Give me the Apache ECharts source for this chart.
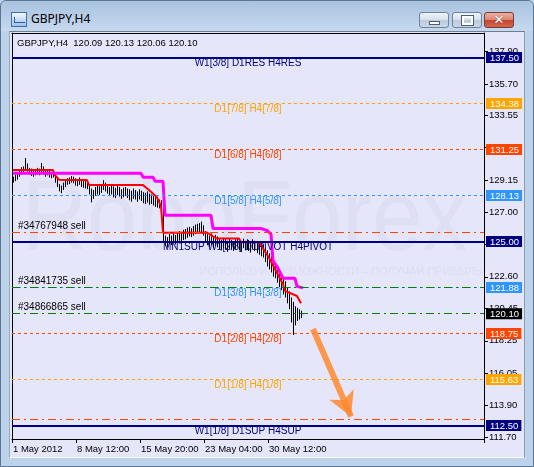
<!DOCTYPE html>
<html>
<head>
<meta charset="utf-8">
<script src="https://cdn.jsdelivr.net/npm/echarts@6/dist/echarts.min.js"></script>
<style>
  html, body { margin: 0; padding: 0; }
  body { width: 534px; height: 467px; position: relative; overflow: hidden; background: #bcd2ea; }
  .win { position: absolute; left: 0; top: 0; width: 532px; height: 465px; border: 1px solid #5d7696; border-radius: 6px 6px 0 0; background: #bdd3eb; }
  .titlebar { position: absolute; left: 0; top: 0; width: 532px; height: 30px; border-radius: 6px 6px 0 0;
    background: linear-gradient(180deg, #a9c2df 0%, #b9cfe8 55%, #c6d9ee 100%); }
  .icon { position: absolute; left: 10px; top: 11px; width: 14px; height: 13px; border: 1px solid #3d6fae;
    background: linear-gradient(180deg, #f4f8fd, #9fc2ea); }
  .icon:after { content: ""; position: absolute; left: 2px; top: 4px; width: 10px; height: 5px; border-bottom: 1px solid #2a5fa6; border-left: 1px solid #2a5fa6; }
  .title { position: absolute; left: 30px; top: 9px; font: 12px "Noto Sans", sans-serif; color: #000; }
  .btn { position: absolute; top: 11px; width: 28px; height: 14px; border: 1px solid #6f819b; border-radius: 3px;
    background: linear-gradient(180deg, #eef3f9 0%, #d5dfeb 50%, #bccbdd 51%, #cad7e6 100%); }
  .btn.min { left: 418px; }
  .btn.max { left: 451px; }
  .btn.cls { left: 483px; border-color: #7a3b33; background: linear-gradient(180deg, #eab0a2 0%, #d98471 50%, #c4452f 51%, #d2684f 100%); }
  .btn.min:after { content: ""; position: absolute; left: 9px; top: 8px; width: 9px; height: 2px; background: #fff; border: 1px solid #4d5d73; }
  .btn.max:after { content: ""; position: absolute; left: 9px; top: 3px; width: 7px; height: 5px; border: 2px solid #fff; outline: 1px solid #4d5d73; }
  .btn.cls span { position: absolute; left: 0; width: 28px; top: -1px; text-align: center; font: bold 13px "DejaVu Sans", sans-serif; color: #fff; text-shadow: 0 0 1px #6b2a22; }
  .client { position: absolute; left: 8px; top: 30px; width: 514px; height: 425px; background: #e6e6fa;
    border-top: 1px solid #6f7f92; border-left: 1px solid #9aa6b4; border-right: 1px solid #8e9aa8; border-bottom: 1px solid #ffffff; }
  #chart { position: absolute; left: 0; top: 0; width: 534px; height: 467px; }
</style>
</head>
<body>
<div class="win">
  <div class="titlebar"></div>
  <div class="icon"></div>
  <div class="title">GBPJPY,H4</div>
  <div class="btn min"></div>
  <div class="btn max"></div>
  <div class="btn cls"><span>✕</span></div>
  <div class="client"></div>
</div>
<div id="chart"></div>
<script>
// time axis: one slot per H4 bar, a label every 32 bars
const tickLabels = ['1 May 2012', '8 May 12:00', '15 May 20:00', '23 May 04:00', '30 May 12:00'];
const barsPerLabel = 32;
const slotCount = 236;

// price scale: visible range and ticks as printed on the right
const priceMin = 111.583;
const priceMax = 139.164;
const priceTicks = [137.90, 135.70, 133.55, 131.40, 129.15, 127.00, 124.80, 122.60, 120.45, 118.25, 116.05, 113.90, 111.70];
const ohlc = ['120.09', '120.13', '120.06', '120.10'];

// H4 bar highs / lows
const highs = [
  129.40, 129.55, 129.70, 129.90, 130.05, 130.10, 130.67, 130.30, 130.00, 129.95,
  129.85, 129.90, 130.00, 129.95, 130.33, 130.10, 129.85, 129.90, 129.80, 129.70,
  129.75, 129.55, 129.30, 128.90, 128.80, 129.00, 129.20, 129.30, 129.35, 129.45,
  129.40, 129.30, 129.20, 129.35, 129.25, 129.15, 129.10, 129.00, 128.80, 128.60,
  128.50, 128.70, 128.80, 128.75, 128.90, 129.17, 129.00, 128.85, 128.70, 128.80,
  128.75, 128.65, 128.80, 128.70, 128.55, 128.65, 128.70, 128.60, 128.55, 128.45,
  128.60, 128.50, 128.40, 128.55, 128.45, 128.35, 128.30, 128.40, 128.25, 128.20,
  128.10, 128.00, 127.95, 127.85, 127.80, 127.35, 125.40, 125.30, 125.50, 125.40,
  125.55, 125.45, 125.60, 125.70, 125.65, 125.80, 125.85, 125.95, 126.00, 125.90,
  126.05, 126.15, 126.20, 126.25, 126.35, 126.10, 125.70, 125.50, 125.40, 125.55,
  125.30, 125.45, 125.35, 125.20, 125.10, 125.25, 125.15, 125.05, 125.20, 125.10,
  125.00, 125.15, 125.25, 125.10, 125.00, 125.20, 125.05, 125.15, 125.10, 125.00,
  125.15, 125.05, 124.95, 125.00, 124.90, 124.80, 124.60, 124.40, 124.20, 124.00,
  123.70, 123.50, 123.20, 122.90, 122.80, 122.50, 122.30, 121.90, 121.60, 121.20,
  120.90, 120.60, 120.50, 120.40, 120.30, 120.13
];
const lows = [
  129.00, 129.10, 129.20, 129.40, 129.55, 129.60, 129.80, 129.75, 129.55, 129.45,
  129.40, 129.50, 129.55, 129.50, 129.70, 129.55, 129.40, 129.50, 129.35, 129.30,
  129.35, 129.00, 128.70, 128.40, 128.28, 128.50, 128.70, 128.85, 128.90, 129.00,
  128.95, 128.80, 128.75, 128.85, 128.70, 128.65, 128.60, 128.55, 128.20, 127.66,
  127.90, 128.10, 128.20, 128.15, 128.30, 128.50, 128.40, 128.25, 128.10, 128.20,
  128.00, 127.95, 128.15, 128.05, 127.90, 128.00, 128.10, 127.95, 127.80, 127.70,
  127.90, 127.85, 127.70, 127.85, 127.75, 127.60, 127.55, 127.65, 127.50, 127.55,
  127.45, 127.35, 127.30, 127.25, 127.20, 124.90, 124.70, 124.60, 124.85, 124.75,
  124.90, 124.80, 124.95, 125.05, 125.00, 125.10, 125.15, 125.25, 125.35, 125.30,
  125.40, 125.50, 125.55, 125.60, 125.65, 125.40, 125.00, 124.75, 124.65, 124.80,
  124.55, 124.70, 124.60, 124.50, 124.40, 124.55, 124.45, 124.30, 124.50, 124.45,
  124.35, 124.50, 124.60, 124.40, 124.30, 124.55, 124.40, 124.45, 124.35, 124.25,
  124.45, 124.35, 124.20, 124.10, 124.00, 123.90, 123.60, 123.30, 123.10, 122.90,
  122.60, 122.50, 122.20, 121.90, 121.70, 121.40, 121.20, 120.80, 120.40, 119.50,
  118.65, 119.30, 119.60, 119.70, 119.80, 120.06
];

// indicator lines, vertices as [bar, price]
const redLine = [
  [0, 129.85], [20, 129.85], [21, 129.50], [23, 129.20], [27, 129.17], [37, 129.17],
  [38, 128.83], [65, 128.83], [68, 128.50], [72, 128.00], [74, 127.40], [75, 125.60],
  [97, 125.61], [100, 125.35], [102, 125.20], [113, 125.20], [114, 124.95], [123, 124.95],
  [128, 123.90], [135, 122.10], [136, 121.65], [142, 121.30], [144, 120.80]
];
const magentaLine = [
  [0, 129.64], [64, 129.64], [65, 129.37], [70, 129.37], [71, 129.10], [75, 129.10],
  [76, 126.78], [99, 126.78], [100, 125.88], [124, 125.88], [127, 125.75], [129, 125.50],
  [130, 123.70], [132, 123.30], [135, 122.50], [141, 122.50], [142, 121.95], [145, 121.85]
];

// Murrey levels
const levelPrices = [137.50, 134.38, 131.25, 128.13, 125.00, 121.88, 118.75, 115.63, 112.50];
const levelNames = [
  'W1[3/8] D1RES H4RES', 'D1[7/8] H4[7/8]', 'D1[6/8] H4[6/8]', 'D1[5/8] H4[5/8]',
  'MN1SUP W1[2/8] D1PIVOT H4PIVOT', 'D1[3/8] H4[3/8]', 'D1[2/8] H4[2/8]', 'D1[1/8] H4[1/8]',
  'W1[1/8] D1SUP H4SUP'
];

// open orders
const orderNames = ['#34767948 sell', '#34841735 sell', '#34866865 sell'];
const orderPrices = [125.61, 121.88, 120.10];
const targetPrice = 112.91;
const bidPrice = 120.10;

// forecast arrow [bar, price]
const arrowFrom = [150, 119.06];
const arrowTo = [169, 113.11];

// ---- styles
const NAVY = '#000080', ORANGE = '#ffa500', OREDRED = '#ff4500', BLUE = '#2f95ff';
const levelStyle = [
  { c: NAVY, type: 'solid', w: 2 }, { c: ORANGE, type: [3, 3], w: 1 }, { c: OREDRED, type: [3, 3], w: 1 },
  { c: BLUE, type: [3, 3], w: 1 }, { c: NAVY, type: 'solid', w: 2 }, { c: BLUE, type: [3, 3], w: 1 },
  { c: OREDRED, type: [3, 3], w: 1 }, { c: ORANGE, type: [3, 3], w: 1 }, { c: NAVY, type: 'solid', w: 2 }
];
const orderColors = [OREDRED, '#008000', '#008000'];
const dashDot = [8, 4, 2, 4];
const FONT = '"Liberation Sans", Arial, sans-serif';

const chart = echarts.init(document.getElementById('chart'), null, { renderer: 'canvas' });

const categories = Array.from({ length: slotCount }, (_, i) => String(i));
const isLabelSlot = (i) => i % barsPerLabel === 0 && i / barsPerLabel < tickLabels.length;

// horizontal lines: Murrey levels (name under the line), orders (name above), target
const levelLines = levelPrices.map((p, k) => {
  const s = levelStyle[k];
  return {
    yAxis: p, lineStyle: { color: s.c, type: s.type, width: s.w },
    label: { show: true, position: 'insideMiddleBottom', distance: 1, formatter: levelNames[k], color: s.c, fontFamily: FONT, fontSize: 10 }
  };
});
orderPrices.forEach((p, k) => {
  levelLines.push({
    yAxis: p, lineStyle: { color: orderColors[k], type: dashDot, width: 1 },
    label: { show: true, position: 'insideStartTop', distance: [6, 1], formatter: orderNames[k], color: '#000', fontFamily: FONT, fontSize: 10 }
  });
});
levelLines.push({ yAxis: targetPrice, lineStyle: { color: OREDRED, type: dashDot, width: 1 }, label: { show: false } });

// coloured price boxes on the scale
const boxPrices = levelPrices.concat([bidPrice]);
const boxColors = levelStyle.map((s) => s.c).concat(['#000']);
const boxRich = {};
boxColors.forEach((c, k) => {
  boxRich['b' + k] = { backgroundColor: c, color: '#fff', padding: [1, 3, 0, 4], fontFamily: FONT, fontSize: 9.5, lineHeight: 10 };
});
const boxFormatter = (v) => {
  const k = boxPrices.findIndex((p) => Math.abs(p - v) < 1e-6);
  return '{b' + k + '|' + v.toFixed(2) + '}';
};

// frame axes (top / left) only draw the box edges, crisp
const frameX = { type: 'category', data: categories, position: 'top', axisLine: { lineStyle: { color: '#000' } },
  axisTick: { show: false }, axisLabel: { show: false }, splitLine: { show: false } };
const frameY = { type: 'value', position: 'left', min: priceMin, max: priceMax,
  axisLine: { show: true, lineStyle: { color: '#000' } }, axisTick: { show: false }, axisLabel: { show: false }, splitLine: { show: false } };
const boxY = { type: 'value', position: 'right', min: priceMin, max: priceMax,
  axisLine: { show: false }, axisTick: { show: false }, splitLine: { show: false },
  axisLabel: { customValues: boxPrices, formatter: boxFormatter, rich: boxRich, margin: 2, showMinLabel: true, showMaxLabel: true } };

const option = {
  animation: false,
  backgroundColor: 'transparent',
  textStyle: { fontFamily: FONT },
  grid: { left: 12, top: 33, width: 472, height: 406 },
  graphic: [
    { type: 'text', left: 22, top: 172, z: -1, scaleX: 0.9,
      style: { text: 'RoboForex', font: '100px ' + FONT, fill: '#dfdff4' } },
    { type: 'text', right: 52, top: 266, z: -1,
      style: { text: 'ИСПОЛЬЗУЙ ВОЗМОЖНОСТИ – ПОЛУЧАЙ ПРИБЫЛЬ', font: '11px ' + FONT, fill: '#dcdcf2' } },
    { type: 'text', left: 17, top: 38,
      style: { text: 'GBPJPY,H4  ' + ohlc.join(' '), font: '9.5px ' + FONT, fill: '#000' } }
  ],
  xAxis: [{
    type: 'category', data: categories, boundaryGap: true, position: 'bottom',
    axisLine: { lineStyle: { color: '#000' } },
    axisTick: { show: true, inside: false, length: 4, interval: (i) => isLabelSlot(i), lineStyle: { color: '#000' } },
    axisLabel: {
      interval: (i) => isLabelSlot(i), formatter: (v, i) => tickLabels[i / barsPerLabel],
      align: 'left', margin: 5, color: '#000', fontFamily: FONT, fontSize: 9.5
    },
    splitLine: { show: false }
  }, frameX],
  yAxis: [{
    type: 'value', position: 'right', min: priceMin, max: priceMax,
    axisLine: { show: true, lineStyle: { color: '#000' } },
    axisTick: { show: true, inside: false, length: 4, customValues: priceTicks, lineStyle: { color: '#000' } },
    axisLabel: { customValues: priceTicks, formatter: (v) => v.toFixed(2), color: '#000', margin: 5, fontFamily: FONT, fontSize: 9.5 },
    splitLine: { show: false }
  }, frameY, boxY],
  series: [
    {
      name: 'levels', type: 'line', data: [], silent: true, z: 1,
      markLine: { silent: true, symbol: 'none', animation: false, data: levelLines }
    },
    {
      name: 'bars', type: 'custom', silent: true, z: 3,
      data: highs.map((h, i) => [i, lows[i], h]),
      encode: { x: 0, y: [1, 2] },
      renderItem: (params, api) => {
        const lo = api.coord([api.value(0), api.value(1)]);
        const hi = api.coord([api.value(0), api.value(2)]);
        const x = Math.floor(lo[0]) + 0.5;
        return { type: 'line', shape: { x1: x, y1: lo[1], x2: x, y2: hi[1] }, style: { stroke: '#000', lineWidth: 1 } };
      }
    },
    {
      name: 'red', type: 'line', data: redLine, symbol: 'none', silent: true, z: 4,
      lineStyle: { color: '#ff0000', width: 2 }
    },
    {
      name: 'magenta', type: 'line', data: magentaLine, symbol: 'none', silent: true, z: 4,
      lineStyle: { color: '#ff00ff', width: 3 },
      markLine: {
        silent: true, symbol: ['none', 'arrow'], symbolSize: [20, 24], animation: false,
        label: { show: false },
        lineStyle: { color: '#ff8a2e', width: 6, type: 'solid', opacity: 0.85 },
        data: [[{ coord: arrowFrom }, { coord: arrowTo }]]
      }
    }
  ]
};

chart.setOption(option);
</script>
</body>
</html>
